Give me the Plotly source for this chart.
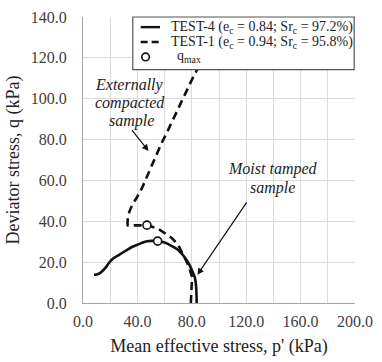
import plotly.graph_objects as go

# TEST-4 (moist tamped sample): mean effective stress p' (kPa), deviator stress q (kPa)
test4_p = [83.6, 83.5, 83.3, 82.9, 82.0, 80.5, 78.0, 74.6, 70.0, 65.0, 60.0, 54.9,
           50.0, 45.0, 41.1, 36.0, 31.5, 26.5, 21.9, 19.0, 17.2, 14.5, 12.4, 10.0, 8.1]
test4_q = [0.0, 3.0, 6.5, 9.9, 13.0, 15.4, 19.0, 22.5, 26.0, 28.0, 29.6, 30.3,
           30.4, 29.9, 28.8, 27.4, 25.6, 23.6, 21.7, 19.6, 17.8, 15.8, 14.6, 13.9, 13.8]

# TEST-1 (externally compacted sample)
test1_p = [79.3, 79.6, 80.2, 80.4, 80.2, 79.3, 77.8, 75.7, 72.8, 69.7, 65.0, 60.2, 56.5,
           53.0, 50.0, 47.0, 42.0, 37.5, 33.8, 33.0, 32.7, 32.9, 34.0, 36.3, 39.5, 43.4,
           47.0, 50.6, 54.0, 57.8, 61.4, 68.0, 74.5, 80.0, 84.2, 92.0, 100.0]
test1_q = [0.0, 4.0, 8.0, 11.0, 12.8, 14.6, 17.8, 20.9, 25.0, 28.8, 32.0, 34.3, 35.8,
           36.9, 37.6, 38.1, 38.0, 37.9, 37.8, 38.0, 39.0, 41.0, 44.5, 48.3, 51.5, 56.3,
           61.8, 67.3, 72.8, 78.3, 83.0, 92.6, 101.9, 109.2, 114.6, 125.5, 137.0]

# q_max points (TEST-4, TEST-1)
qmax_p = [54.9, 47.0]
qmax_q = [30.3, 38.1]

x_ticks = [0, 40, 80, 120, 160, 200]
y_ticks = [0, 20, 40, 60, 80, 100, 120, 140]

legend_labels = ["TEST-4 (e<sub>c</sub> = 0.84; Sr<sub>c</sub> = 97.2%)",
                 "TEST-1 (e<sub>c</sub> = 0.94; Sr<sub>c</sub> = 95.8%)",
                 "q<sub>max</sub>"]

SERIF = "Liberation Serif"
INK = "#111111"

fig = go.Figure()
fig.add_trace(go.Scatter(x=test4_p, y=test4_q, mode="lines", name="TEST-4",
                         line=dict(color=INK, width=2.6, shape="spline", smoothing=0.8),
                         showlegend=False))
fig.add_trace(go.Scatter(x=test1_p, y=test1_q, mode="lines", name="TEST-1",
                         line=dict(color=INK, width=2.6, dash="8px,5px"),
                         showlegend=False))
fig.add_trace(go.Scatter(x=qmax_p, y=qmax_q, mode="markers", name="q_max",
                         marker=dict(symbol="circle", size=8, color="white",
                                     line=dict(color=INK, width=1.6)),
                         showlegend=False))

# Manual legend box (paper coordinates)
row_y = [0.9646, 0.9125, 0.8603]
shapes = [
    dict(type="rect", xref="paper", yref="paper", x0=0.183, x1=0.997, y0=0.816, y1=1.0,
         line=dict(color="#555555", width=1.2), fillcolor="white", layer="above"),
    dict(type="line", xref="paper", yref="paper", x0=0.212, x1=0.283, y0=row_y[0], y1=row_y[0],
         line=dict(color=INK, width=2.4), layer="above"),
    dict(type="line", xref="paper", yref="paper", x0=0.212, x1=0.283, y0=row_y[1], y1=row_y[1],
         line=dict(color=INK, width=2.4, dash="7px,4px"), layer="above"),
    dict(type="circle", xref="paper", yref="paper", xsizemode="pixel", ysizemode="pixel",
         xanchor=0.23, yanchor=row_y[2], x0=-3.8, x1=3.8, y0=-3.8, y1=3.8,
         line=dict(color=INK, width=1.6), fillcolor="white", layer="above"),
]

annotations = []
for lab, yp, xp in zip(legend_labels, row_y, [0.316, 0.316, 0.34]):
    annotations.append(dict(xref="paper", yref="paper", x=xp, y=yp, text=lab,
                            showarrow=False, xanchor="left", yanchor="middle",
                            font=dict(family=SERIF, size=14, color="#222222")))

# In-plot italic labels
for txt, px, qy in [("Externally", 34.5, 106.6), ("compacted", 34.5, 98.1),
                    ("sample", 35.5, 89.2), ("Moist tamped", 139.6, 65.7),
                    ("sample", 139.6, 56.3)]:
    annotations.append(dict(x=px, y=qy, xref="x", yref="y", text=txt, showarrow=False,
                            xanchor="center", yanchor="middle",
                            font=dict(family=SERIF, size=16, color="#222222", style="italic")))

# arrows
annotations.append(dict(x=48.2, y=74.4, ax=35.1, ay=85.4, xref="x", yref="y",
                        axref="x", ayref="y", text="", showarrow=True, arrowhead=2,
                        arrowsize=1.1, arrowwidth=1.2, arrowcolor=INK))
annotations.append(dict(x=84.1, y=13.8, ax=121.1, ay=50.0, xref="x", yref="y",
                        axref="x", ayref="y", text="", showarrow=True, arrowhead=2,
                        arrowsize=1.1, arrowwidth=1.2, arrowcolor=INK))

fig.update_layout(
    width=382, height=362,
    margin=dict(l=83, r=20, t=9, b=56),
    plot_bgcolor="white", paper_bgcolor="white",
    showlegend=False,
    shapes=shapes, annotations=annotations,
    font=dict(family=SERIF, color="#222222"),
)
fig.update_xaxes(
    range=[0, 200], tickvals=x_ticks, ticktext=[f"{v:.1f}" for v in x_ticks],
    showgrid=True, gridcolor="#dcdcdc", gridwidth=1,
    minor=dict(dtick=20, showgrid=True, gridcolor="#dcdcdc", gridwidth=1),
    showline=True, linecolor="#a6a6a6", linewidth=1.2, zeroline=False,
    ticks="", tickfont=dict(family=SERIF, size=16, color="#404040"),
    ticklabelstandoff=4,
    title=dict(text="Mean effective stress, p' (kPa)",
               font=dict(family=SERIF, size=18, color="#222222"), standoff=10),
)
fig.update_yaxes(
    range=[0, 140], tickvals=y_ticks, ticktext=[f"{v:.1f}" for v in y_ticks],
    showgrid=True, gridcolor="#dcdcdc", gridwidth=1,
    showline=True, linecolor="#a6a6a6", linewidth=1.2, zeroline=False,
    ticks="", tickfont=dict(family=SERIF, size=16, color="#404040"),
    ticklabelstandoff=12,
    title=dict(text="Deviator stress, q (kPa)",
               font=dict(family=SERIF, size=18, color="#222222"), standoff=6),
)

fig.write_html("out.html")
